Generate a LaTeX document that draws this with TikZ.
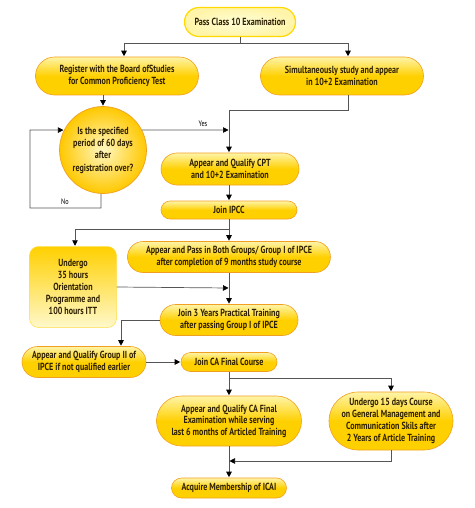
\documentclass[tikz,border=0pt]{standalone}
\usepackage{fontspec}
\setmainfont[FakeStretch=0.78]{PT Sans}
\usetikzlibrary{shapes.misc,arrows.meta}
\definecolor{txt}{HTML}{2E2000}
\definecolor{gold}{HTML}{FFD000}
\definecolor{pale}{HTML}{FFF4A8}
\definecolor{edge}{HTML}{F0A020}
\definecolor{ln}{HTML}{555555}
\tikzset{
  base/.style={align=center,text=txt,font=\bfseries\fontsize{10.3}{11.5}\selectfont,inner sep=1pt},
  pill/.style={base,rounded rectangle,draw=edge,line width=0.6pt,top color=pale,bottom color=gold,middle color=gold},
  startpill/.style={base,rounded rectangle,draw=gold!80!yellow,line width=1.2pt,inner color=white!85!yellow,outer color=pale},
  decision/.style={base,circle,draw=edge,line width=0.7pt,inner color=pale!70!white,outer color=gold!90!orange,font=\bfseries\fontsize{10.3}{12.3}\selectfont},
  tallbox/.style={base,rectangle,rounded corners=9pt,draw=gold!70!white,line width=0.5pt,top color=gold,bottom color=pale!60!white,font=\bfseries\fontsize{10.3}{12}\selectfont},
  conn/.style={draw=ln,line width=0.7pt},
  arr/.style={conn,-{Triangle[length=5.5pt,width=5.5pt,color=black,fill=black]},shorten >=0.5pt},
  lab/.style={font=\fontsize{8}{9}\selectfont,text=black,inner sep=0pt}
}
\begin{document}
\begin{tikzpicture}[x=1pt,y=-1pt]
\useasboundingbox (0,0) rectangle (474,508);
\node[startpill,minimum width=113pt,minimum height=29pt] (n1) at (240,22) {Pass Class 10 Examination};
\node[pill,minimum width=165pt,minimum height=38pt] (n2) at (117,76) {Register with the Board ofStudies\\for Common Proficiency Test};
\node[pill,minimum width=165pt,minimum height=38pt] (n3) at (342,76) {Simultaneously study and appear\\in 10+2 Examination};
\node[decision,minimum size=87pt] (c) at (103,150) {Is the specified\\period of 60 days\\after\\registration over?};
\node[pill,minimum width=140pt,minimum height=32pt] (n5) at (230,169) {Appear and Qualify CPT\\and 10+2 Examination};
\node[pill,minimum width=138pt,minimum height=18pt] (n6) at (229,210) {Join IPCC};
\node[tallbox,minimum width=87pt,minimum height=81pt] (n7) at (73,287) {Undergo\\35 hours\\Orientation\\Programme and\\100 hours ITT};
\node[pill,minimum width=205pt,minimum height=31pt] (n8) at (229,257) {Appear and Pass in Both Groups/ Group I of IPCE\\after completion of 9 months study course};
\node[pill,minimum width=140pt,minimum height=31pt] (n9) at (229,320) {Join 3 Years Practical Training\\after passing Group I of IPCE};
\node[pill,minimum width=126pt,minimum height=31pt] (n10) at (84,362) {Appear and Qualify Group II of\\IPCE if not qualified earlier};
\node[pill,minimum width=98pt,minimum height=19pt] (n11) at (229,362) {Join CA Final Course};
\node[pill,minimum width=147pt,minimum height=50pt] (n12) at (229,421) {Appear and Qualify CA Final\\Examination while serving\\last 6 months of Articled Training};
\node[pill,minimum width=126pt,minimum height=58pt,font=\bfseries\fontsize{10.3}{12}\selectfont] (n13) at (391,421) {Undergo 15 days Course\\on General Management and\\Communication Skils after\\2 Years of Article Training};
\node[pill,minimum width=117pt,minimum height=20pt] (n14) at (229,488) {Acquire Membership of ICAI};
% coordinates
\coordinate (t1) at (240,43);
\coordinate (tl) at (124,43);
\coordinate (tr) at (348,43);
\coordinate (r1) at (348,95);
\coordinate (r2) at (348,110);
\coordinate (r3) at (229,110);
\coordinate (y1) at (229,130);
\coordinate (no1) at (101,208);
\coordinate (no2) at (30,208);
\coordinate (no3) at (30,130);
\coordinate (b1) at (229,229);
\coordinate (b2) at (75,229);
\coordinate (o1) at (229,288);
\coordinate (p1) at (121,320);
\coordinate (f1) at (229,378);
\coordinate (f2) at (391,378);
\coordinate (m1) at (391,461);
\coordinate (m2) at (229,461);
% connectors
\draw[conn] (n1.south) -- (t1);
\draw[conn] (tl) -- (tr);
\draw[arr] (tl) -- (tl |- n2.north);
\draw[arr] (tr) -- (tr |- n3.north);
\draw[arr] (n2.south -| c.north) -- (c.north);
\draw[conn] (r1) -- (r2) -- (r3);
\draw[arr] (r3) -- (r3 |- n5.north);
\draw[arr] (c.27) -- (y1) node[lab,pos=0.7,above=3pt] {Yes};
\draw[arr] (c.south -| no1) -- (no1) -- (no2) -- (no3) -- (c.153);
\node[lab] (nolab) at (65,202) {No};
\draw[arr] (n5.south -| n6.north) -- (n6.north);
\draw[arr] (n6.south) -- (n8.north);
\draw[arr] (b1) -- (b2) -- (b2 |- n7.north);
\draw[arr] (n7.east) -- (o1);
\draw[arr] (n8.south) -- (n9.north);
\draw[arr] (n9.west) -- (p1) -- (p1 |- n10.north);
\draw[arr] (n10.east) -- (n11.west);
\draw[arr] (n11.south) -- (n12.north);
\draw[arr] (f1) -- (f2) -- (n13.north);
\draw[arr] (n12.south) -- (n14.north);
\draw[arr] (n13.south) -- (m1) -- (m2);
\end{tikzpicture}
\end{document}
